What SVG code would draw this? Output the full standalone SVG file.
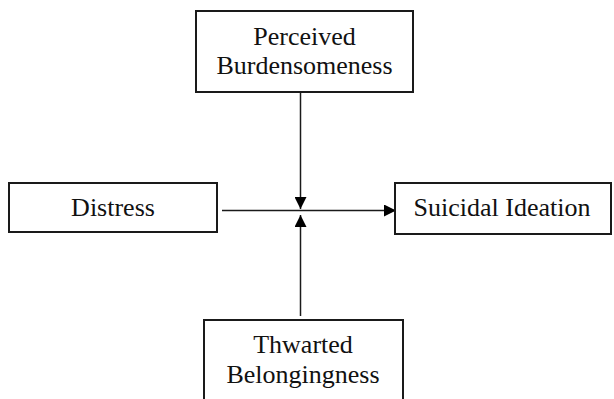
<svg xmlns="http://www.w3.org/2000/svg" width="614" height="399" viewBox="0 0 614 399">
<style>
.box{fill:#fff;stroke:#1a1a1a;stroke-width:2}
.lbl{font-family:"Liberation Serif","Times New Roman",serif;font-size:26px;fill:#111;text-anchor:middle}
.ln{stroke:#1a1a1a;stroke-width:1.5;fill:none}
</style>
<defs>
<marker id="ah" viewBox="0 0 12 12" refX="12" refY="6" markerWidth="12" markerHeight="12" markerUnits="userSpaceOnUse" orient="auto">
<path d="M0,0 L12,6 L0,12 Z" fill="#000"/>
</marker>
</defs>
<rect width="614" height="399" fill="#fff"/>
<g id="connectors">
<line class="ln" x1="222" y1="210.5" x2="396" y2="210.5" marker-end="url(#ah)"/>
<line class="ln" x1="300.5" y1="93" x2="300.5" y2="209" marker-end="url(#ah)"/>
<line class="ln" x1="300.5" y1="316" x2="300.5" y2="215" marker-end="url(#ah)"/>
</g>
<g id="perceived-burdensomeness">
<rect class="box" x="196" y="11" width="217" height="81"/>
<text class="lbl" x="304.5" y="45">Perceived</text>
<text class="lbl" x="304.5" y="74">Burdensomeness</text>
</g>
<g id="distress">
<rect class="box" x="9" y="183" width="208" height="49"/>
<text class="lbl" x="113" y="216">Distress</text>
</g>
<g id="suicidal-ideation">
<rect class="box" x="395" y="183" width="216" height="51"/>
<text class="lbl" x="502" y="216">Suicidal Ideation</text>
</g>
<g id="thwarted-belongingness">
<rect class="box" x="204" y="320" width="199" height="90"/>
<text class="lbl" x="303" y="353">Thwarted</text>
<text class="lbl" x="303" y="383">Belongingness</text>
</g>
</svg>
